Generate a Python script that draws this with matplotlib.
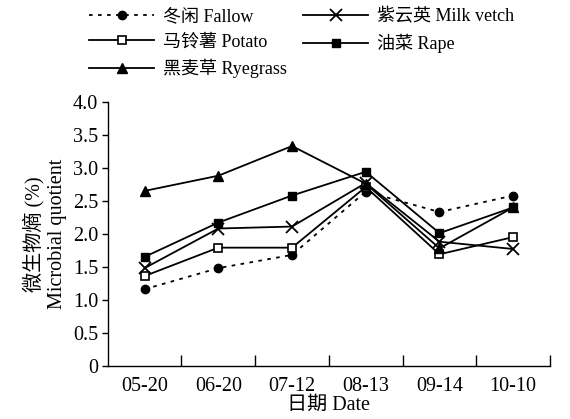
import matplotlib.pyplot as plt

plt.rcParams['font.family'] = ['Liberation Serif', 'Noto Sans CJK SC']
plt.rcParams['font.size'] = 14.5

dates = ['05-20', '06-20', '07-12', '08-13', '09-14', '10-10']
fallow = [1.16, 1.48, 1.68, 2.64, 2.33, 2.58]
milk_vetch = [1.48, 2.08, 2.11, 2.77, 1.88, 1.77]
potato = [1.36, 1.79, 1.79, 2.71, 1.69, 1.95]
rape = [1.65, 2.17, 2.58, 2.94, 2.01, 2.40]
ryegrass = [2.65, 2.88, 3.33, 2.76, 1.78, 2.40]

fig = plt.figure(figsize=(5.7, 4.19), dpi=100)
ax = fig.add_axes([0.189, 0.127, 0.776, 0.630])

x = list(range(len(dates)))
kw = dict(color='black', lw=1.3, ms=6)
h1, = ax.plot(x, fallow, ls=(0, (2, 3)), marker='o', label='冬闲 Fallow', **kw)
h2, = ax.plot(x, milk_vetch, marker='x', mew=1.3, ms=8, color='black', lw=1.3,
              label='紫云英 Milk vetch')
h3, = ax.plot(x, potato, marker='s', mfc='white', mew=1.2, label='马铃薯 Potato', **kw)
h4, = ax.plot(x, rape, marker='s', label='油菜 Rape', **kw)
h5, = ax.plot(x, ryegrass, marker='^', ms=7, color='black', lw=1.3,
              label='黑麦草 Ryegrass')

ax.set_xlim(-0.5, len(dates) - 0.5)
ax.set_ylim(0, 4.0)
ax.set_yticks([0, 0.5, 1.0, 1.5, 2.0, 2.5, 3.0, 3.5, 4.0])
ax.set_yticklabels(['0', '0.5', '1.0', '1.5', '2.0', '2.5', '3.0', '3.5', '4.0'])
ax.set_xticks(x)
ax.set_xticklabels(dates)
ax.tick_params(axis='x', length=0, pad=8)
ax.set_xticks([i + 0.5 for i in x], minor=True)
ax.tick_params(axis='x', which='minor', direction='in', length=8, width=1)
ax.tick_params(axis='y', direction='out', length=4, width=1, pad=3)

for s in ['top', 'right']:
    ax.spines[s].set_visible(False)
for s in ['left', 'bottom']:
    ax.spines[s].set_linewidth(1)

ax.set_ylabel('微生物熵 (%)\nMicrobial quotient', linespacing=1.25, labelpad=4)
ax.set_xlabel('日期 Date', labelpad=0)

fig.legend(handles=[h1, h3, h5, h2, h4], ncol=2, frameon=False, fontsize=13,
           loc='upper left', bbox_to_anchor=(0.134, 1.01),
           handlelength=3.6, columnspacing=0.9, labelspacing=0.45,
           handletextpad=0.5, borderpad=0.2)

fig.savefig('out.png', dpi=100)
